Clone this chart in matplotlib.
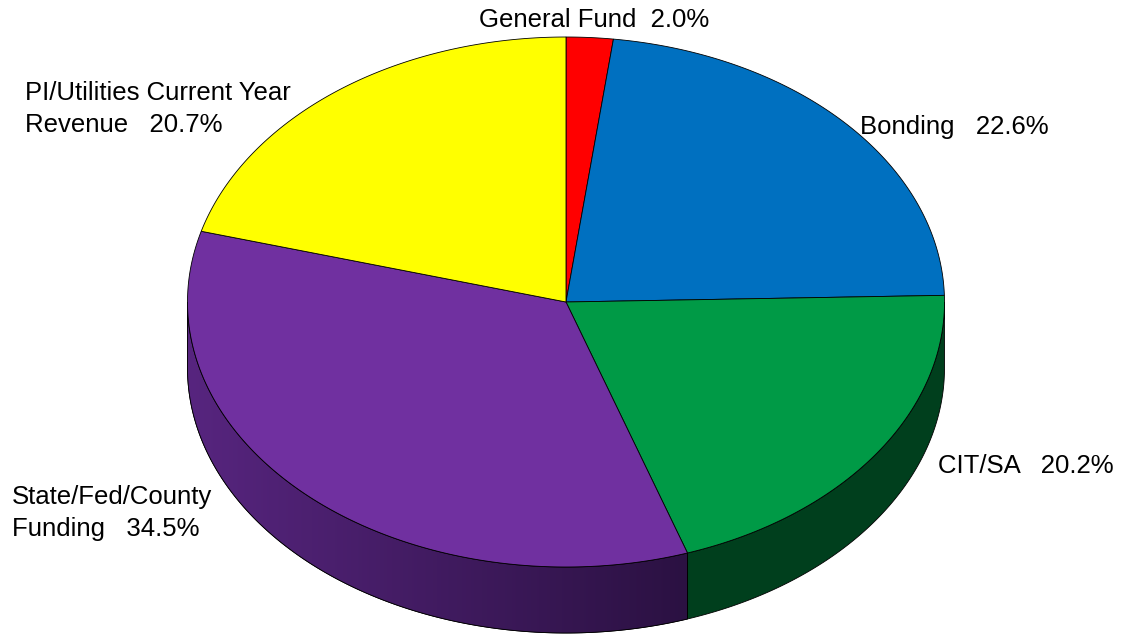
import numpy as np
import matplotlib
matplotlib.use("Agg")
import matplotlib.pyplot as plt
from matplotlib.patches import Polygon
from matplotlib.colors import LinearSegmentedColormap

plt.rcParams['font.family'] = ['Liberation Sans', 'DejaVu Sans']

# data, clockwise from 12 o'clock
labels = ["General Fund", "Bonding", "CIT/SA", "State/Fed/County\nFunding", "PI/Utilities Current Year\nRevenue"]
values = [2.0, 22.6, 20.2, 34.5, 20.7]
top_colors = ["#FF0000", "#0070C0", "#009A46", "#7030A0", "#FFFF00"]
side_colors = [("#8a0000", "#8a0000"), ("#003a66", "#003a66"), ("#003f1d", "#003f1d"),
               ("#57257f", "#2b1142"), ("#8a8a00", "#8a8a00")]

# label placement (pixels, left/center anchor)
label_pos = [(594, 20, "center"), (860, 127, "left"), (938, 466, "left"),
             (12, 513, "left"), (25, 109, "left")]
label_gap = ["  ", "   ", "   ", "   ", "   "]

W, H = 1122, 635
cx, cy = 566, 302
a, b = 378.5, 265
depth = 66

fig = plt.figure(figsize=(W / 100, H / 100), dpi=100)
ax = fig.add_axes([0, 0, 1, 1])
ax.set_xlim(0, W)
ax.set_ylim(H, 0)
ax.axis("off")


def pt(t, dy=0):
    t = np.radians(t)
    return np.column_stack([cx + a * np.cos(t), cy - b * np.sin(t) + dy])


# wedge angles (degrees, math convention, going clockwise)
cum = np.concatenate([[0], np.cumsum(values)]) / sum(values) * 360
starts = 90 - cum[:-1]
ends = 90 - cum[1:]

# side walls (front half only: -180..0)
for i in range(len(values)):
    lo, hi = max(ends[i], -180), min(starts[i], 0)
    if lo >= hi:
        continue
    t = np.linspace(hi, lo, 200)
    top = pt(t)
    bot = pt(t[::-1], depth)
    poly_xy = np.vstack([top, bot])
    c1, c2 = side_colors[i]
    poly = Polygon(poly_xy, closed=True, facecolor=c1, edgecolor="black", lw=0.6, zorder=2)
    ax.add_patch(poly)
    if c1 != c2:
        x0, x1 = poly_xy[:, 0].min(), poly_xy[:, 0].max()
        y0, y1 = poly_xy[:, 1].min(), poly_xy[:, 1].max()
        cmap = LinearSegmentedColormap.from_list("side%d" % i, [c1, c2])
        grad = np.linspace(0, 1, 256).reshape(1, -1)
        im = ax.imshow(grad, cmap=cmap, extent=[x0, x1, y1, y0], aspect="auto", zorder=2.1)
        im.set_clip_path(poly)
        ax.add_patch(Polygon(poly_xy, closed=True, fill=False, edgecolor="black", lw=0.6, zorder=2.2))

# top face
for i in range(len(values)):
    t = np.linspace(starts[i], ends[i], 200)
    xy = np.vstack([[cx, cy], pt(t)])
    ax.add_patch(Polygon(xy, closed=True, facecolor=top_colors[i], edgecolor="black", lw=0.6, zorder=3))

# labels
for i in range(len(values)):
    x, y, ha = label_pos[i]
    ax.text(x, y, "%s%s%.1f%%" % (labels[i], label_gap[i], values[i]), ha=ha, va="center",
            fontsize=18.5, linespacing=1.4, color="black", zorder=5)

fig.savefig("out.png", dpi=100)
